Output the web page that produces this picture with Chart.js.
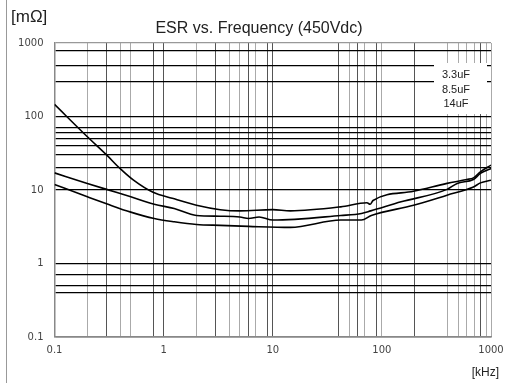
<!DOCTYPE html>
<html>
<head>
<meta charset="utf-8">
<script src="https://cdn.jsdelivr.net/npm/chart.js@4.4.1/dist/chart.umd.min.js"></script>
<style>
  html, body { margin: 0; padding: 0; background: #fff; }
  #wrap { width: 506px; height: 383px; position: relative; }
</style>
</head>
<body>
<div id="wrap"><canvas id="esrChart" width="506" height="383"></canvas></div>
<script>
// Curves: frequency in kHz, ESR in mOhm
const seriesNames = ['3.3uF', '8.5uF', '14uF'];

const freq33 = [0.1, 0.2, 0.3, 0.4, 0.53, 0.8, 1.2, 2, 3.3, 5, 10, 14.5, 42, 73, 78, 83, 195, 395, 600, 690, 800, 1000];
const esr33  = [146, 53, 30, 19.5, 13.6, 9.3, 7.7, 6.2, 5.4, 5.2, 5.4, 5.2, 5.9, 6.7, 6.4, 7.2, 9.6, 12.3, 13.9, 14.6, 17.7, 21.8];

const freq85 = [0.1, 0.2, 0.3, 0.5, 0.82, 1.25, 2, 3.3, 5, 6, 7.5, 10, 42, 65, 79, 150, 395, 490, 690, 800, 1000];
const esr85  = [17.1, 12.3, 10.2, 8.1, 6.4, 5.6, 4.5, 4.4, 4.3, 4.1, 4.3, 3.9, 4.5, 4.8, 5.2, 6.9, 10.2, 12.3, 13.9, 16.8, 19.6];

const freq14 = [0.1, 0.2, 0.3, 0.5, 0.82, 1.25, 2, 3.3, 6, 14.5, 42, 65, 80, 195, 395, 690, 800, 1000];
const esr14  = [11.9, 8.1, 6.5, 5.0, 4.1, 3.7, 3.4, 3.3, 3.2, 3.1, 3.9, 3.9, 4.5, 6.2, 8.5, 11.0, 12.5, 13.6];

// Grid lines as printed on the sheet (not every minor step is drawn)
const xGridValues = [0.1, 0.2, 0.3, 0.4, 0.5, 0.8, 1, 2, 3, 4, 5, 6, 7, 9, 10, 40, 50, 60, 70, 90, 100, 200, 400, 500, 600, 700, 800, 900, 1000];
const yGridValues = [0.1, 0.4, 0.5, 0.7, 1, 10, 20, 30, 40, 50, 60, 70, 100, 300, 500, 800, 1000];

const xTickValues = [0.1, 1, 10, 100, 1000];
const xTickLabels = ['0.1', '1', '10', '100', '1000'];
const yTickValues = [0.1, 1, 10, 100, 1000];
const yTickLabels = ['0.1', '1', '10', '100', '1000'];

function toPoints(xs, ys) {
    return xs.map((x, i) => ({ x: x, y: ys[i] }));
}

// scanned sheet has vertical lines in two shades
const darkX = [0.3, 0.8, 1, 3, 6, 9, 10, 40, 60, 90, 200, 800];
function xGridColor(ctx) {
    const v = ctx.tick ? ctx.tick.value : null;
    return darkX.includes(v) ? '#555' : '#aaa';
}

const sheetDecor = {
    id: 'sheetDecor',
    beforeDraw(chart) {
        const c = chart.ctx;
        c.save();
        c.fillStyle = '#fff';
        c.fillRect(0, 0, chart.width, chart.height);
        c.restore();
    },
    afterDraw(chart) {
        const c = chart.ctx;
        c.save();
        // left page edge
        c.strokeStyle = '#999';
        c.lineWidth = 1;
        c.beginPath();
        c.moveTo(6.5, 0);
        c.lineTo(6.5, chart.height);
        c.stroke();

        c.fillStyle = '#222';
        c.textBaseline = 'middle';
        c.font = '17px "Liberation Sans", Arial, sans-serif';
        c.textAlign = 'left';
        c.fillText('[mΩ]', 11, 17);
        c.font = '16px "Liberation Sans", Arial, sans-serif';
        c.textAlign = 'center';
        c.fillText('ESR vs. Frequency (450Vdc)', 259, 29);

        c.font = '12px "Liberation Sans", Arial, sans-serif';
        c.textAlign = 'right';
        c.fillText('[kHz]', 499, 373);

        // legend block, white box over the grid
        c.fillStyle = '#fff';
        c.fillRect(434, 63, 53, 51);
        c.fillStyle = '#222';
        c.font = '11px "Liberation Sans", Arial, sans-serif';
        c.textAlign = 'center';
        seriesNames.forEach((name, i) => {
            c.fillText(name, 456, 75 + i * 14.5);
        });
        c.restore();
    }
};

const lineStyle = {
    borderColor: '#000',
    borderWidth: 1.6,
    pointRadius: 0,
    fill: false,
    cubicInterpolationMode: 'monotone'
};

new Chart(document.getElementById('esrChart'), {
    type: 'line',
    data: {
        datasets: [
            Object.assign({ label: seriesNames[0], data: toPoints(freq33, esr33) }, lineStyle),
            Object.assign({ label: seriesNames[1], data: toPoints(freq85, esr85) }, lineStyle),
            Object.assign({ label: seriesNames[2], data: toPoints(freq14, esr14) }, lineStyle)
        ]
    },
    options: {
        responsive: false,
        animation: false,
        layout: { padding: { left: 0, right: 15, top: 43, bottom: 0 } },
        plugins: {
            legend: { display: false },
            title: { display: false },
            tooltip: { enabled: false }
        },
        scales: {
            x: {
                type: 'logarithmic',
                min: 0.1,
                max: 1000,
                afterBuildTicks: scale => { scale.ticks = xGridValues.map(v => ({ value: v })); },
                afterFit: scale => {
                    scale.height = 46;
                    scale.paddingLeft = 0;
                    scale.paddingRight = 0;
                },
                grid: { color: xGridColor, lineWidth: 1, drawTicks: false },
                border: { color: '#888', width: 1.5 },
                ticks: {
                    autoSkip: false,
                    maxRotation: 0,
                    padding: 7,
                    color: '#444',
                    font: { family: 'DejaVu Sans', size: 10 },
                    callback: value => {
                        const i = xTickValues.indexOf(value);
                        return i >= 0 ? xTickLabels[i] : '';
                    }
                }
            },
            y: {
                type: 'logarithmic',
                min: 0.1,
                max: 1000,
                afterBuildTicks: scale => { scale.ticks = yGridValues.map(v => ({ value: v })); },
                afterFit: scale => {
                    scale.width = 54.5;
                    scale.paddingTop = 0;
                    scale.paddingBottom = 0;
                },
                grid: {
                    color: ctx => (ctx.tick && ctx.tick.value === 1000) ? '#999' : '#000',
                    lineWidth: 1.2,
                    drawTicks: false
                },
                border: { color: '#888', width: 1.5 },
                ticks: {
                    autoSkip: false,
                    padding: 11,
                    color: '#444',
                    font: { family: 'DejaVu Sans', size: 10 },
                    callback: value => {
                        const i = yTickValues.indexOf(value);
                        return i >= 0 ? yTickLabels[i] : '';
                    }
                }
            }
        }
    },
    plugins: [sheetDecor]
});
</script>
</body>
</html>
